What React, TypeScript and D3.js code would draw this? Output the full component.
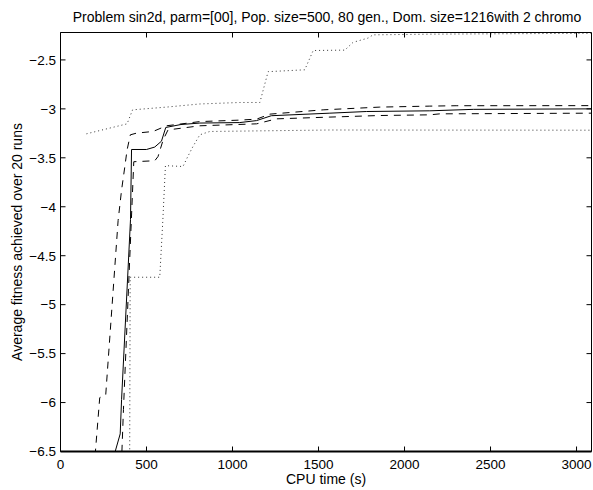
import React from "react";
import * as d3 from "d3";

const titleText = "Problem sin2d, parm=[00], Pop. size=500, 80 gen., Dom. size=1216with 2 chromo";
const xLabel = "CPU time (s)";
const yLabel = "Average fitness achieved over 20 runs";

const xTicks = [0, 500, 1000, 1500, 2000, 2500, 3000];
const yTicks = [-2.5, -3, -3.5, -4, -4.5, -5, -5.5, -6, -6.5];
const xDomain = [0, 3087];
const yDomain = [-6.5, -2.22];

// mean (solid)
const meanT = [150, 318, 347, 355, 407, 413, 500, 548, 587, 612, 700, 810, 1042, 1140, 1226, 1566, 1779, 2147, 2400, 3087];
const meanV = [-8.5, -6.5, -6.32, -5.97, -4.13, -3.415, -3.415, -3.39, -3.33, -3.19, -3.16, -3.145, -3.14, -3.12, -3.07, -3.044, -3.027, -3.02, -3.005, -3.0];

// mean + std (dashed)
const upT = [150, 203, 228, 263, 335, 355, 374, 387, 406, 442, 538, 616, 810, 1042, 1140, 1217, 1527, 1856, 2147, 2300, 3087];
const upV = [-8, -6.5, -5.95, -5.92, -4.14, -3.83, -3.59, -3.42, -3.265, -3.248, -3.231, -3.173, -3.13, -3.115, -3.105, -3.054, -3.01, -2.982, -2.972, -2.968, -2.967];

// mean - std (dashed)
const loT = [150, 357, 366, 426, 548, 567, 597, 625, 810, 1140, 1256, 1566, 1856, 2147, 2205, 3087];
const loV = [-9, -6.5, -6.07, -3.54, -3.53, -3.487, -3.316, -3.215, -3.173, -3.153, -3.102, -3.084, -3.068, -3.061, -3.051, -3.044];

// max (dotted)
const maxT = [151, 387, 419, 616, 810, 1042, 1159, 1207, 1420, 1469, 1653, 1701, 1788, 1817, 2147, 3087];
const maxV = [-3.255, -3.153, -3.01, -2.982, -2.95, -2.935, -2.935, -2.62, -2.601, -2.404, -2.4, -2.32, -2.277, -2.244, -2.237, -2.228];

// min (dotted)
const minT = [150, 400, 405, 577, 595, 610, 712, 740, 770, 810, 868, 1566, 3087];
const minV = [-9, -8, -4.72, -4.72, -4.136, -3.58, -3.589, -3.487, -3.385, -3.265, -3.231, -3.216, -3.218];

const W = 593;
const H = 490;
const L = 60.5, R = 591.5, T = 32.5, B = 451.5;

export default function App() {
  const x = d3.scaleLinear().domain(xDomain).range([L, R]);
  const y = d3.scaleLinear().domain(yDomain).range([B, T]);
  const line = d3.line<[number, number]>().x((d) => x(d[0])).y((d) => y(d[1]));
  const mk = (t: number[], v: number[]) => line(t.map((tt, i) => [tt, v[i]] as [number, number])) || "";
  const fmt = d3.format("");
  const font = "'Liberation Sans', Arial, Helvetica, sans-serif";
  const tickLen = 5;
  const tickFs = 13.5;
  const labFs = 14;

  return (
    <svg width={W} height={H} style={{ position: "absolute", left: 0, top: 0, background: "#fff" }} fontFamily={font}>
      <defs>
        <clipPath id="plot">
          <rect x={L} y={T} width={R - L} height={B - T} />
        </clipPath>
      </defs>
      <rect x={0} y={0} width={W} height={H} fill="#fff" />
      <g clipPath="url(#plot)" fill="none">
        <path d={mk(maxT, maxV)} stroke="#333" strokeWidth={1} strokeDasharray="1,3" />
        <path d={mk(minT, minV)} stroke="#333" strokeWidth={1} strokeDasharray="1,3" />
        <path d={mk(upT, upV)} stroke="#000" strokeWidth={1} strokeDasharray="7,6" />
        <path d={mk(loT, loV)} stroke="#000" strokeWidth={1} strokeDasharray="7,6" />
        <path d={mk(meanT, meanV)} stroke="#000" strokeWidth={1} />
      </g>
      {/* box */}
      <line x1={L} x2={R} y1={T} y2={T} stroke="#000" strokeWidth={1} />
      <line x1={L} x2={L} y1={T} y2={B} stroke="#000" strokeWidth={1} />
      <line x1={R} x2={R} y1={T} y2={B} stroke="#000" strokeWidth={1} />
      <line x1={L} x2={R} y1={B} y2={B} stroke="#000" strokeWidth={2} />
      {/* x ticks */}
      {xTicks.map((t) => (
        <g key={"x" + t}>
          <line x1={x(t)} x2={x(t)} y1={B} y2={B - tickLen} stroke="#000" />
          <line x1={x(t)} x2={x(t)} y1={T} y2={T + tickLen} stroke="#000" />
          <text x={x(t)} y={468.5} textAnchor="middle" fontSize={tickFs}>{fmt(t)}</text>
        </g>
      ))}
      {/* y ticks */}
      {yTicks.map((v) => (
        <g key={"y" + v}>
          <line x1={L} x2={L + tickLen} y1={y(v)} y2={y(v)} stroke="#000" />
          <line x1={R} x2={R - tickLen} y1={y(v)} y2={y(v)} stroke="#000" />
          <text x={56} y={y(v) + 4.8} textAnchor="end" fontSize={tickFs}>{fmt(v)}</text>
        </g>
      ))}
      <text x={(L + R) / 2 + 1} y={22} textAnchor="middle" fontSize={labFs}>{titleText}</text>
      <text x={(L + R) / 2} y={484} textAnchor="middle" fontSize={labFs}>{xLabel}</text>
      <text transform={`translate(21.5,${(T + B) / 2}) rotate(-90)`} textAnchor="middle" fontSize={labFs}>{yLabel}</text>
    </svg>
  );
}
